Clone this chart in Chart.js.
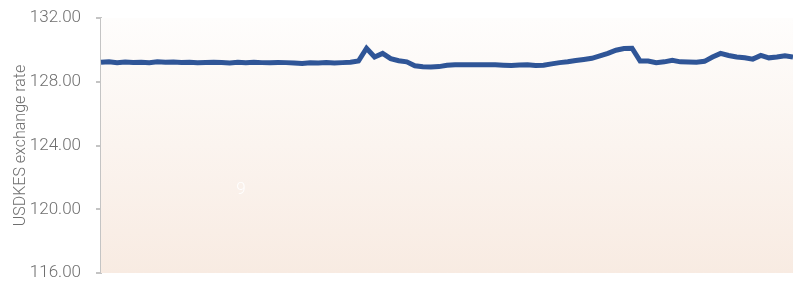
<!DOCTYPE html>
<html>
<head>
<meta charset="utf-8">
<script src="https://cdn.jsdelivr.net/npm/chart.js@4/dist/chart.umd.min.js"></script>
<style>
  html, body { margin: 0; padding: 0; background: #fff; overflow: hidden; }
  canvas { display: block; }
</style>
</head>
<body>
<canvas id="rateChart" width="793" height="282"></canvas>
<script>
const rates = [
  129.22, 129.25, 129.20, 129.24, 129.21, 129.23, 129.20, 129.25, 129.22, 129.24,
  129.21, 129.22, 129.20, 129.21, 129.23, 129.21, 129.18, 129.22, 129.20, 129.23,
  129.20, 129.19, 129.21, 129.20, 129.17, 129.14, 129.19, 129.17, 129.20, 129.18,
  129.20, 129.22, 129.30, 130.10, 129.55, 129.78, 129.45, 129.32, 129.25, 129.00,
  128.94, 128.93, 128.95, 129.03, 129.07, 129.06, 129.07, 129.06, 129.07, 129.06,
  129.04, 129.02, 129.05, 129.06, 129.02, 129.03, 129.12, 129.20, 129.25, 129.33,
  129.40, 129.47, 129.62, 129.78, 129.98, 130.08, 130.10, 129.30, 129.30, 129.20,
  129.25, 129.35, 129.25, 129.24, 129.22, 129.28, 129.55, 129.78, 129.65, 129.55,
  129.50, 129.42, 129.65, 129.50, 129.55, 129.63, 129.55
];
// x axis is hidden in the reference, so the labels are just observation numbers
const obsLabels = rates.map((_, i) => String(i + 1));

const yMin = 116;
const yMax = 132;
const yStep = 4;
const yTitle = "USDKES exchange rate";
const watermark = "9";

// soft peach fill behind the plot + the faint watermark
const backdrop = {
  id: "backdrop",
  beforeDatasetsDraw(chart) {
    const { ctx, chartArea: a } = chart;
    const g = ctx.createLinearGradient(0, a.top, 0, a.bottom);
    g.addColorStop(0, "#fefdfc");
    g.addColorStop(1, "#f8ebe2");
    ctx.save();
    ctx.fillStyle = g;
    ctx.fillRect(a.left, a.top, a.right - a.left, a.bottom - a.top);
    ctx.fillStyle = "rgba(255,255,255,0.95)";
    ctx.font = "300 17px Roboto";
    ctx.textAlign = "center";
    ctx.textBaseline = "middle";
    ctx.fillText(watermark, a.left + 140, a.top + 172);
    ctx.restore();
  }
};

new Chart(document.getElementById("rateChart").getContext("2d"), {
  type: "line",
  data: {
    labels: obsLabels,
    datasets: [{
      label: yTitle,
      data: rates,
      borderColor: "#2f5597",
      borderWidth: 5,
      pointRadius: 0,
      tension: 0,
      fill: false
    }]
  },
  options: {
    responsive: false,
    animation: false,
    layout: { autoPadding: false, padding: { top: 18, bottom: 9, left: 0, right: 0 } },
    plugins: {
      legend: { display: false },
      tooltip: { enabled: false }
    },
    scales: {
      x: { display: false, offset: false },
      y: {
        min: yMin,
        max: yMax,
        // fixed axis width; tick padding shouldn't push the plot down
        afterFit: s => { s.width = 101; s.paddingTop = 0; s.paddingBottom = 0; },
        border: { color: "#c4c4c4", width: 2 },
        grid: { drawOnChartArea: false, color: "#c4c4c4", lineWidth: 2, tickLength: 5 },
        ticks: {
          stepSize: yStep,
          padding: 15,
          color: "#6f6f6f",
          font: { family: "Roboto", size: 17, weight: 300 },
          callback: v => v.toFixed(2)
        },
        title: {
          display: true,
          text: yTitle,
          color: "#6f6f6f",
          font: { family: "Roboto", size: 16, weight: 300 },
          padding: { top: 11, bottom: 0 }
        }
      }
    }
  },
  plugins: [backdrop]
});
</script>
</body>
</html>
